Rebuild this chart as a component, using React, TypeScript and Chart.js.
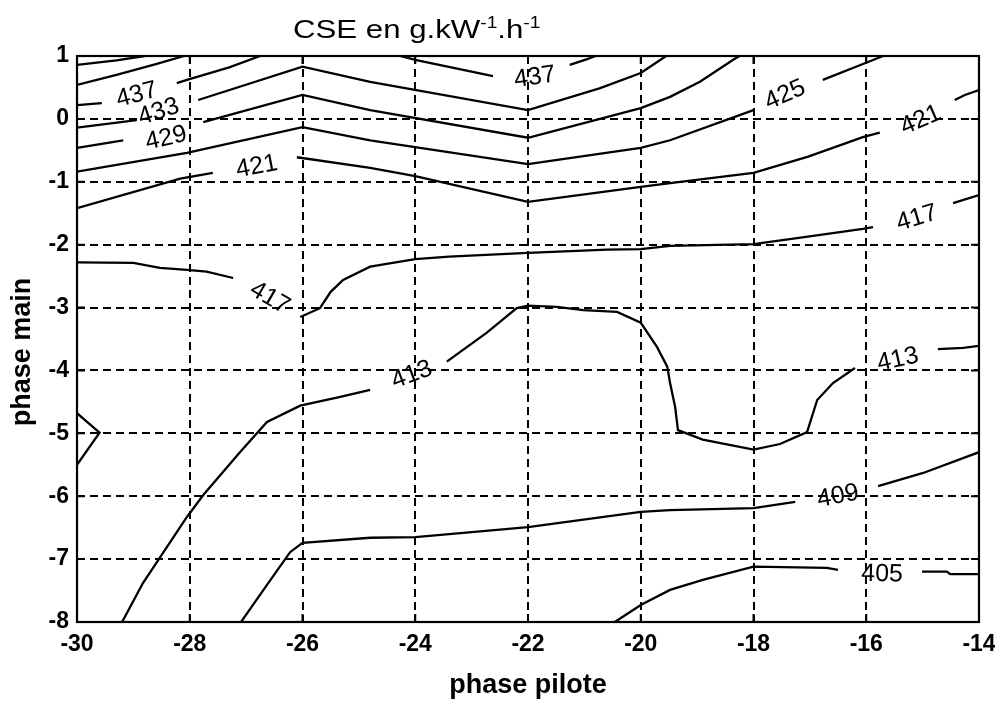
import React, { useEffect, useRef } from "react";
import { Chart, registerables } from "chart.js";

Chart.register(...registerables);

type Pt = [number, number];

// Axis ticks
const xTicks = [-30, -28, -26, -24, -22, -20, -18, -16, -14];
const yTicks = [-8, -7, -6, -5, -4, -3, -2, -1, 0, 1];

// Contour line segments: [phase pilote, phase main]
const c445: Pt[] = [[-30, 0.86], [-29.3, 0.93], [-28.8, 1.0]];
const c441: Pt[] = [[-30, 0.54], [-29.3, 0.7], [-28.6, 0.87], [-28.1, 1.0]];
const c437a: Pt[] = [[-30, 0.22], [-29.56, 0.25]];
const c437b: Pt[] = [[-28.23, 0.57], [-28.05, 0.62], [-27.3, 0.82], [-26.75, 1.0]];
const c437c: Pt[] = [[-24.27, 1.0], [-24.0, 0.94], [-22.62, 0.68]];
const c437d: Pt[] = [[-21.26, 0.86], [-20.95, 0.95], [-20.8, 1.0]];
const c433a: Pt[] = [[-30, -0.14], [-28.94, -0.02]];
const c433b: Pt[] = [[-27.85, 0.3], [-26, 0.83], [-24.8, 0.59], [-22, 0.14], [-20.72, 0.49], [-20, 0.73], [-19.55, 1.0]];
const c429a: Pt[] = [[-30, -0.46], [-29.18, -0.34]];
const c429b: Pt[] = [[-27.76, -0.05], [-26, 0.38], [-24.8, 0.14], [-22, -0.3], [-20, 0.17], [-19.48, 0.35], [-18.95, 0.59], [-18.36, 0.94], [-18.25, 1.0]];
const c425a: Pt[] = [[-30, -0.84], [-28.05, -0.54], [-26, -0.13], [-24.8, -0.34], [-22, -0.72], [-20, -0.46], [-19.48, -0.34], [-18, 0.14]];
const c425b: Pt[] = [[-16.77, 0.62], [-15.98, 0.9], [-15.7, 1.0]];
const c421a: Pt[] = [[-30, -1.42], [-28.17, -0.95], [-27.59, -0.86]];
const c421b: Pt[] = [[-26.1, -0.61], [-24.8, -0.78], [-24, -0.91], [-22, -1.32], [-20, -1.08], [-19.48, -1.02], [-18, -0.86], [-17.03, -0.6], [-16.06, -0.29], [-15.76, -0.22]];
const c421c: Pt[] = [[-14.43, 0.3], [-14.25, 0.38], [-14, 0.46]];
const c417a: Pt[] = [[-30, -2.28], [-29.0, -2.29], [-28.53, -2.37], [-28.05, -2.4], [-27.7, -2.43], [-27.23, -2.53]];
const c417b: Pt[] = [[-26.04, -3.15], [-25.69, -3.01], [-25.5, -2.75], [-25.28, -2.56], [-24.8, -2.35], [-24, -2.23], [-23.4, -2.19], [-22, -2.13], [-20.6, -2.08], [-20, -2.07], [-19.48, -2.02], [-18, -1.99], [-17.1, -1.88], [-16.06, -1.75], [-15.88, -1.72]];
const c417c: Pt[] = [[-14.46, -1.34], [-14, -1.21]];
const c413a: Pt[] = [[-29.2, -8], [-28.83, -7.38], [-28.05, -6.33], [-27.76, -5.98], [-27.11, -5.3], [-26.63, -4.82], [-26.04, -4.56], [-25.33, -4.42], [-24.8, -4.31]];
const c413b: Pt[] = [[-23.44, -3.86], [-22.73, -3.4], [-22.2, -3.01], [-22.0, -2.97], [-21.49, -2.99], [-21.02, -3.04], [-20.42, -3.07], [-20.0, -3.24], [-19.71, -3.63], [-19.53, -3.94], [-19.48, -4.2], [-19.39, -4.58], [-19.34, -4.95], [-18.9, -5.1], [-18.0, -5.26], [-17.53, -5.17], [-17.05, -4.98], [-16.87, -4.47], [-16.59, -4.2], [-16.2, -3.96]];
const c413c: Pt[] = [[-14.73, -3.66], [-14.28, -3.64], [-14, -3.61]];
const c413w: Pt[] = [[-30, -4.68], [-29.6, -4.99], [-30, -5.5]];
const c409a: Pt[] = [[-27.09, -8], [-26.63, -7.41], [-26.22, -6.89], [-26.0, -6.74], [-24.8, -6.66], [-24.0, -6.65], [-22.0, -6.49], [-20.0, -6.25], [-19.48, -6.22], [-18.0, -6.19], [-17.26, -6.09]];
const c409b: Pt[] = [[-15.79, -5.84], [-14.99, -5.63], [-14, -5.3]];
const c405a: Pt[] = [[-20.46, -8], [-20, -7.73], [-19.48, -7.49], [-18.9, -7.33], [-18, -7.12], [-16.7, -7.14], [-16.5, -7.17]];
const c405b: Pt[] = [[-15.01, -7.2], [-14.57, -7.2], [-14.51, -7.24], [-14, -7.24]];

const segments: Pt[][] = [
  c445, c441, c437a, c437b, c437c, c437d, c433a, c433b, c429a, c429b,
  c425a, c425b, c421a, c421b, c421c, c417a, c417b, c417c,
  c413a, c413b, c413c, c413w, c409a, c409b, c405a, c405b,
];

// Inline contour labels (text, anchor, and the gap they sit in)
const contourLabels = [
  { text: "437", x: -28.94, y: 0.38, from: c437a, to: c437b },
  { text: "433", x: -28.55, y: 0.11, from: c433a, to: c433b },
  { text: "429", x: -28.42, y: -0.31, from: c429a, to: c429b },
  { text: "421", x: -26.81, y: -0.76, from: c421a, to: c421b },
  { text: "437", x: -21.88, y: 0.66, from: c437c, to: c437d },
  { text: "425", x: -17.44, y: 0.38, from: c425a, to: c425b },
  { text: "421", x: -15.03, y: -0.02, from: c421b, to: c421c },
  { text: "417", x: -26.58, y: -2.85, from: c417a, to: c417b },
  { text: "417", x: -15.1, y: -1.58, from: c417b, to: c417c },
  { text: "413", x: -24.06, y: -4.07, from: c413a, to: c413b },
  { text: "413", x: -15.44, y: -3.83, from: c413b, to: c413c },
  { text: "409", x: -16.5, y: -6.0, from: c409a, to: c409b },
  { text: "405", x: -15.72, y: -7.24, from: c405a, to: c405b },
];

const titleParts = [
  { t: "CSE en g.kW", sup: false },
  { t: "-1", sup: true },
  { t: ".h", sup: false },
  { t: "-1", sup: true },
];
const xTitle = "phase pilote";
const yTitle = "phase main";

const FONT = '"Liberation Sans", Arial, Helvetica, sans-serif';

const labelPlugin = {
  id: "contourLabels",
  afterDatasetsDraw(chart: any) {
    const ctx = chart.ctx;
    const xs = chart.scales.x;
    const ys = chart.scales.y;
    ctx.save();
    ctx.fillStyle = "#000";
    ctx.font = `25px ${FONT}`;
    ctx.textAlign = "center";
    ctx.textBaseline = "middle";
    for (const l of contourLabels) {
      const a = l.from[l.from.length - 1];
      const b = l.to[0];
      const ax = xs.getPixelForValue(a[0]);
      const ay = ys.getPixelForValue(a[1]);
      const bx = xs.getPixelForValue(b[0]);
      const by = ys.getPixelForValue(b[1]);
      let ang = Math.atan2(by - ay, bx - ax);
      if (ang > Math.PI / 2) ang -= Math.PI;
      if (ang < -Math.PI / 2) ang += Math.PI;
      ctx.save();
      ctx.translate(xs.getPixelForValue(l.x), ys.getPixelForValue(l.y));
      ctx.rotate(ang);
      ctx.fillText(l.text, 0, 0);
      ctx.restore();
    }
    ctx.restore();
  },
};

const framePlugin = {
  id: "frameAndTitle",
  afterDraw(chart: any) {
    const ctx = chart.ctx;
    const { left, right, top, bottom } = chart.chartArea;
    const xs = chart.scales.x;
    const ys = chart.scales.y;
    ctx.save();
    ctx.strokeStyle = "#000";
    ctx.lineWidth = 2.2;
    ctx.setLineDash([]);
    ctx.strokeRect(left, top, right - left, bottom - top);
    ctx.lineWidth = 2;
    ctx.beginPath();
    for (const v of xTicks) {
      const p = xs.getPixelForValue(v);
      ctx.moveTo(p, bottom);
      ctx.lineTo(p, bottom - 8);
      ctx.moveTo(p, top);
      ctx.lineTo(p, top + 8);
    }
    for (const v of yTicks) {
      const p = ys.getPixelForValue(v);
      ctx.moveTo(left, p);
      ctx.lineTo(left + 8, p);
      ctx.moveTo(right, p);
      ctx.lineTo(right - 8, p);
    }
    ctx.stroke();
    ctx.restore();

    // Title with superscripts
    ctx.save();
    ctx.fillStyle = "#000";
    ctx.textAlign = "left";
    ctx.textBaseline = "alphabetic";
    ctx.translate(293, 38);
    ctx.scale(1.2, 1);
    let cx = 0;
    for (const part of titleParts) {
      ctx.font = part.sup ? `16px ${FONT}` : `26px ${FONT}`;
      ctx.fillText(part.t, cx, part.sup ? -10 : 0);
      cx += ctx.measureText(part.t).width;
    }
    ctx.restore();

    // Vertical axis title
    ctx.save();
    ctx.fillStyle = "#000";
    ctx.font = `bold 27px ${FONT}`;
    ctx.textAlign = "center";
    ctx.textBaseline = "alphabetic";
    ctx.translate(30, 352);
    ctx.rotate(-Math.PI / 2);
    ctx.fillText(yTitle, 0, 0);
    ctx.restore();
  },
};

export default function App() {
  const canvasRef = useRef<HTMLCanvasElement | null>(null);

  useEffect(() => {
    const canvas = canvasRef.current;
    if (!canvas) return;
    const chart = new Chart(canvas, {
      type: "scatter",
      data: {
        datasets: segments.map((seg, i) => ({
          label: `c${i}`,
          data: seg.map(([x, y]) => ({ x, y })),
          showLine: true,
          borderColor: "#000",
          backgroundColor: "#000",
          borderWidth: 2.3,
          pointRadius: 0,
          pointHoverRadius: 0,
          fill: false,
          tension: 0,
        })),
      },
      options: {
        animation: false,
        responsive: true,
        maintainAspectRatio: false,
        layout: { padding: { top: 56, right: 16, left: 0, bottom: 0 } },
        plugins: {
          legend: { display: false },
          tooltip: { enabled: false },
          title: { display: false },
        },
        scales: {
          x: {
            type: "linear",
            min: -30,
            max: -14,
            afterBuildTicks: (scale: any) => {
              scale.ticks = xTicks.map((v) => ({ value: v }));
            },
            afterFit: (scale: any) => {
              scale.height = 82;
              scale.paddingLeft = 0;
              scale.paddingRight = 0;
            },
            ticks: {
              color: "#000",
              padding: 9,
              font: { family: FONT, size: 23, weight: "bold" },
              callback: (v: any) => String(v),
              maxRotation: 0,
              autoSkip: false,
            },
            grid: { color: "#000", lineWidth: 2, drawTicks: false },
            border: { display: false, dash: [8, 5] },
            title: {
              display: true,
              text: xTitle,
              color: "#000",
              font: { family: FONT, size: 27, weight: "bold" },
              padding: { top: 0, bottom: 2 },
            },
          },
          y: {
            type: "linear",
            min: -8,
            max: 1,
            afterBuildTicks: (scale: any) => {
              scale.ticks = yTicks.map((v) => ({ value: v }));
            },
            afterFit: (scale: any) => {
              scale.width = 77;
              scale.paddingTop = 0;
              scale.paddingBottom = 0;
            },
            ticks: {
              color: "#000",
              padding: 8,
              font: { family: FONT, size: 23, weight: "bold" },
              callback: (v: any) => String(v),
              autoSkip: false,
            },
            grid: { color: "#000", lineWidth: 2, drawTicks: false },
            border: { display: false, dash: [8, 5] },
            title: { display: false },
          },
        },
      },
      plugins: [labelPlugin, framePlugin],
    } as any);
    return () => chart.destroy();
  }, []);

  return (
    <div
      style={{
        position: "absolute",
        left: 0,
        top: 0,
        width: 995,
        height: 704,
        background: "#fff",
      }}
    >
      <canvas ref={canvasRef} />
    </div>
  );
}
